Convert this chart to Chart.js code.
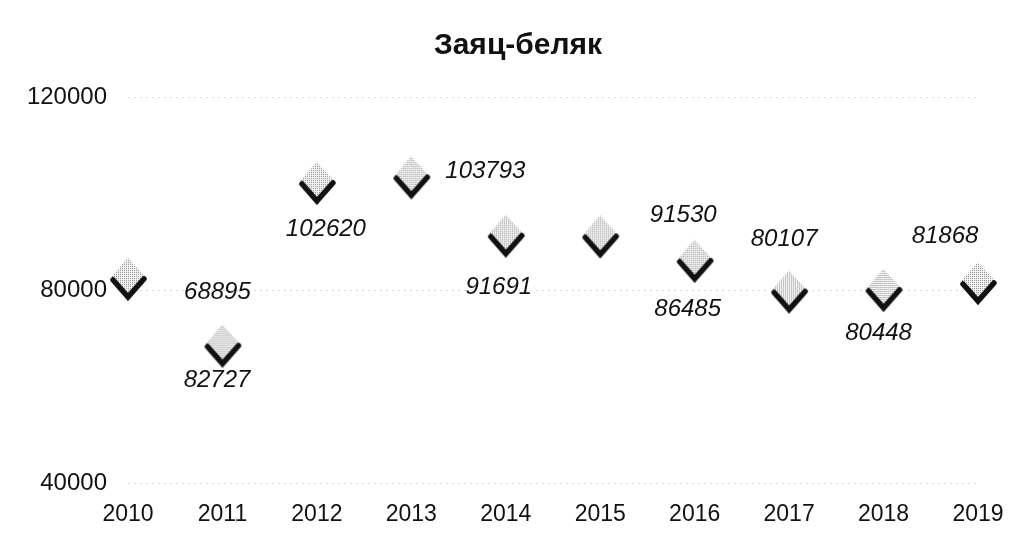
<!DOCTYPE html>
<html>
<head>
<meta charset="utf-8">
<script src="https://cdn.jsdelivr.net/npm/chart.js@4.4.1/dist/chart.umd.min.js"></script>
<style>
  html, body { margin: 0; padding: 0; background: #fff; }
  #wrap { width: 1019px; height: 536px; }
</style>
</head>
<body>
<div id="wrap"><canvas id="chart"></canvas></div>
<script>
const years = ['2010','2011','2012','2013','2014','2015','2016','2017','2018','2019']
const hares = [82727, 68895, 102620, 103793, 91691, 91530, 86485, 80107, 80448, 81868]
const yTicks = [40000, 80000, 120000]

// where each value label sits relative to its marker (px)
const labelShift = [[89,103],[-5,-51],[9,48],[74,-4],[-7,54],[83,-19],[-7,51],[-5,-50],[-5,45],[-33,-45]]

const FONT = "'Liberation Sans', Arial, sans-serif"

// marker: dotted grey diamond with a black tick over its lower half
function makeMarker(){
    const c = document.createElement('canvas')
    c.width = 40
    c.height = 50
    const ctx = c.getContext('2d')

    const p = document.createElement('canvas')
    p.width = 2
    p.height = 2
    const pctx = p.getContext('2d')
    pctx.fillStyle = '#f6f6f6'
    pctx.fillRect(0, 0, 2, 2)
    pctx.fillStyle = '#8c8c8c'
    pctx.fillRect(0, 0, 1, 1)

    ctx.fillStyle = ctx.createPattern(p, 'repeat')
    ctx.beginPath()
    ctx.moveTo(20, 6)
    ctx.lineTo(37, 25)
    ctx.lineTo(20, 43)
    ctx.lineTo(3, 25)
    ctx.closePath()
    ctx.fill()

    ctx.strokeStyle = '#111'
    ctx.lineWidth = 5.5
    ctx.lineCap = 'round'
    ctx.lineJoin = 'miter'
    ctx.beginPath()
    ctx.moveTo(5, 28)
    ctx.lineTo(20, 45)
    ctx.lineTo(36, 27)
    ctx.stroke()
    return c
}

const valueLabels = {
    id: 'valueLabels',
    afterDatasetsDraw(chart){
        const ctx = chart.ctx
        const pts = chart.getDatasetMeta(0).data
        ctx.save()
        ctx.font = 'italic 24px ' + FONT
        ctx.fillStyle = '#111'
        ctx.textAlign = 'center'
        ctx.textBaseline = 'middle'
        pts.forEach((pt, i) => {
            const s = labelShift[i]
            ctx.fillText(String(hares[i]), pt.x + s[0], pt.y + s[1])
        })
        ctx.restore()
    }
}

// title in the original sits a bit right of the plot's middle
const titleNudge = {
    id: 'titleNudge',
    afterLayout(chart){
        const t = chart.titleBlock
        if (t) { t.left += 29; t.right += 29 }
    }
}

const data = {
    labels: years,
    datasets: [{
        data: hares,
        showLine: false,
        pointStyle: makeMarker(),
        pointRadius: 20,
        pointHoverRadius: 20
    }]
}

new Chart(document.getElementById('chart'), {
    type: 'line',
    data: data,
    options: {
        responsive: true,
        maintainAspectRatio: false,
        animation: false,
        layout: { padding: { left: 0, right: 41, top: 0, bottom: 0 } },
        plugins: {
            legend: { display: false },
            tooltip: { enabled: false },
            title: {
                display: true,
                text: 'Заяц-беляк',
                color: '#111',
                font: { family: FONT, size: 30, weight: 'bold' },
                padding: { top: 28, bottom: 33 }
            }
        },
        scales: {
            x: {
                offset: false,
                grid: { display: false },
                border: { display: false },
                ticks: { color: '#111', font: { family: FONT, size: 23 }, padding: 10, maxRotation: 0 },
                afterFit(scale){ scale.height = 53 }
            },
            y: {
                min: 40000,
                max: 120000,
                afterBuildTicks(scale){ scale.ticks = yTicks.map(v => ({ value: v })) },
                grid: { color: '#dcdcdc', lineWidth: 1, drawTicks: false },
                border: { display: false, dash: [2, 4] },
                ticks: {
                    color: '#111',
                    font: { family: FONT, size: 24 },
                    padding: 21,
                    callback: v => String(v)
                },
                afterFit(scale){ scale.width = 128 }
            }
        }
    },
    plugins: [valueLabels, titleNudge]
})
</script>
</body>
</html>
